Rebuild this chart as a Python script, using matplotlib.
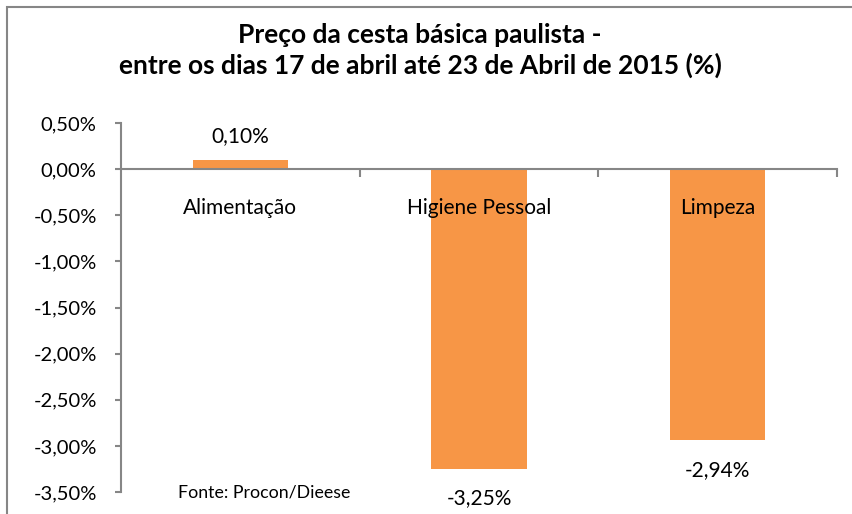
import matplotlib.pyplot as plt
from matplotlib.patches import Rectangle

categories = ["Alimentação", "Higiene Pessoal", "Limpeza"]
values = [0.10, -3.25, -2.94]
yticks = [0.5, 0.0, -0.5, -1.0, -1.5, -2.0, -2.5, -3.0, -3.5]

title = "Preço da cesta básica paulista -\nentre os dias 17 de abril até 23 de Abril de 2015 (%)"
source = "Fonte: Procon/Dieese"

bar_color = "#F79646"
axis_color = "#868686"


def pct(v):
    return f"{v:.2f}".replace(".", ",") + "%"


plt.rcParams["font.family"] = ["Lato", "DejaVu Sans"]

fig = plt.figure(figsize=(8.52, 5.14), dpi=100)
ax = fig.add_axes([121 / 852, 1 - 492 / 514, (837 - 121) / 852, (492 - 123) / 514])

x = list(range(len(categories)))
ax.bar(x, values, width=0.4, color=bar_color, zorder=1)

ax.set_xlim(-0.5, len(categories) - 0.5)
ax.set_ylim(-3.5, 0.5)
ax.set_yticks(yticks)
ax.set_yticklabels([pct(v) for v in yticks], fontsize=14.5)

# category axis crosses at zero
ax.spines["bottom"].set_position(("data", 0))
ax.spines["bottom"].set_color(axis_color)
ax.spines["bottom"].set_linewidth(1.5)
ax.spines["left"].set_color(axis_color)
ax.spines["left"].set_linewidth(1.5)
ax.spines["top"].set_visible(False)
ax.spines["right"].set_visible(False)

ax.set_xticks(x)
ax.set_xticklabels(categories, fontsize=15)
ax.set_xticks([0.5, 1.5, 2.5], minor=True)
ax.tick_params(axis="x", which="major", length=0, pad=21)
ax.tick_params(axis="x", which="minor", length=6, width=1.5, color=axis_color, direction="out")
ax.tick_params(axis="y", length=4.5, width=1.5, color=axis_color, pad=13)

for i, v in enumerate(values):
    if v >= 0:
        ax.annotate(pct(v), (i, v), xytext=(0, 10), textcoords="offset points",
                    ha="center", va="bottom", fontsize=15)
    else:
        ax.annotate(pct(v), (i, v), xytext=(0, -14), textcoords="offset points",
                    ha="center", va="top", fontsize=15)

ax.text(0.08, 0.0, source, transform=ax.transAxes, fontsize=12.8,
        ha="left", va="center")

fig.text(0.493, 0.902, title, ha="center", va="center", fontsize=19,
         fontweight="bold", linespacing=1.25)

# chart border (cut off on right and bottom, like the reference)
fig.patches.append(Rectangle((7 / 852, -0.2), 1.2, 1.2 - 7 / 514,
                             transform=fig.transFigure, fill=False,
                             edgecolor=axis_color, linewidth=1.5))

fig.savefig("out.png", dpi=100)
